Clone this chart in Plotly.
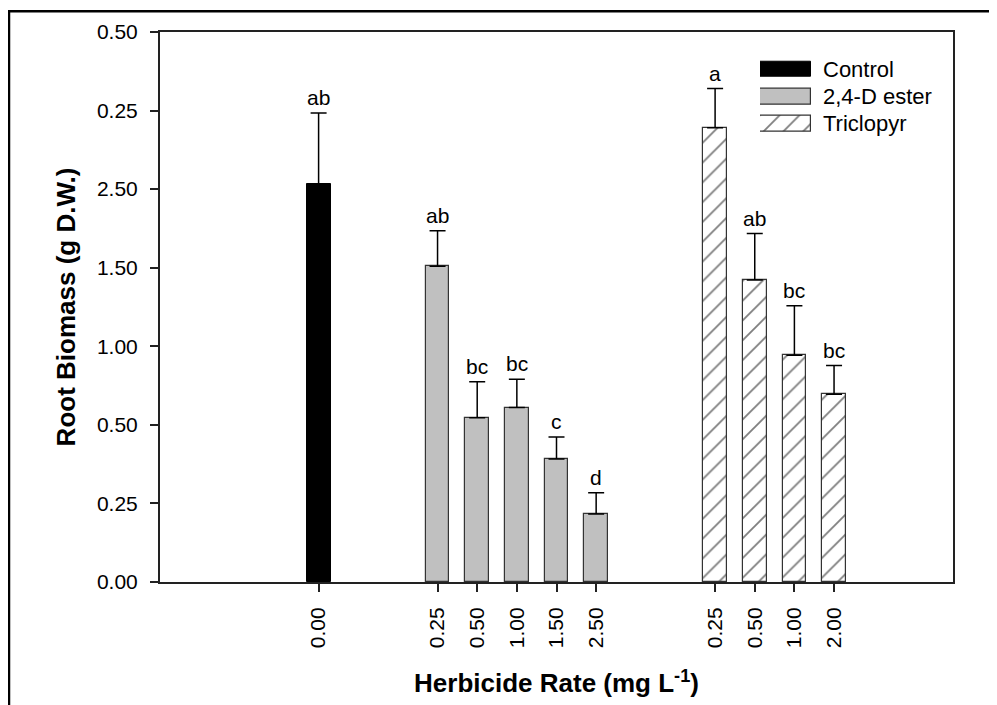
import plotly.graph_objects as go

# ---- data (values read in axis-position units) ----
groups = ["Control", "2,4-D ester", "Triclopyr"]
control_rates = ["0.00"]
ester_rates = ["0.25", "0.50", "1.00", "1.50", "2.50"]
triclopyr_rates = ["0.25", "0.50", "1.00", "2.00"]

control_vals = [5.06]
ester_vals = [4.02, 2.09, 2.22, 1.565, 0.867]
triclopyr_vals = [5.78, 3.845, 2.886, 2.39]

control_err = [0.91]
ester_err = [0.45, 0.46, 0.36, 0.28, 0.27]
triclopyr_err = [0.50, 0.59, 0.63, 0.365]

control_letters = ["ab"]
ester_letters = ["ab", "bc", "bc", "c", "d"]
triclopyr_letters = ["a", "ab", "bc", "bc"]

y_tick_labels = ["0.00", "0.25", "0.50", "1.00", "1.50", "2.50", "0.25", "0.50"]

# ---- layout helpers (page pixel coords; page has an 8px body offset) ----
OFF = 8
W, H = 997 - OFF, 705 - OFF
L, R, T, B = 160, 953, 28, 583          # plot area in page pixels
FONT = "Liberation Sans, Arial, sans-serif"

def px(x):
    return (x - L) / (R - L)

def py(y):
    return (B - y) / (B - T)

rates = [control_rates, ester_rates, triclopyr_rates]
vals = [control_vals, ester_vals, triclopyr_vals]
errs = [control_err, ester_err, triclopyr_err]
letters = [control_letters, ester_letters, triclopyr_letters]

GAP = 3
positions = []
start = 0
for r in rates:
    positions.append([start + i for i in range(len(r))])
    start = positions[-1][-1] + GAP

styles = [
    dict(color="black", line=dict(color="black", width=1)),
    dict(color="#c0c0c0", line=dict(color="#333333", width=1.2)),
    dict(color="white", line=dict(color="#333333", width=1.2),
         pattern=dict(shape="/", fgcolor="black", bgcolor="white", size=14, solidity=0.13)),
]

fig = go.Figure()
for g, xs, v, e, st in zip(groups, positions, vals, errs, styles):
    fig.add_trace(go.Bar(
        x=xs, y=v, name=g, width=0.6, marker=st, showlegend=False,
        error_y=dict(type="data", symmetric=False, array=e, arrayminus=[0] * len(e),
                     color="black", thickness=1.5, width=8),
    ))

annotations = []
for xs, v, e, lt in zip(positions, vals, errs, letters):
    for xx, vv, ee, tt in zip(xs, v, e, lt):
        annotations.append(dict(x=xx, y=vv + ee, xref="x", yref="y", text=tt,
                                showarrow=False, yanchor="bottom", yshift=2,
                                font=dict(family=FONT, size=21, color="black")))

# legend swatches drawn as bars on a small auxiliary axis
for i, (g, st) in enumerate(zip(groups, styles)):
    fig.add_trace(go.Bar(
        x=[1], y=[i], base=0, orientation="h", width=0.57, marker=st,
        xaxis="x2", yaxis="y2", showlegend=False, hoverinfo="skip",
    ))
    annotations.append(dict(x=px(821), y=i, xref="paper", yref="y2", text=g,
                            showarrow=False, xanchor="left", yanchor="middle",
                            font=dict(family=FONT, size=22, color="black")))

tickvals_x = [p for grp in positions for p in grp]
ticktext_x = [r for grp in rates for r in grp]

fig.update_layout(
    width=W, height=H,
    margin=dict(l=L - OFF, r=W - (R - OFF), t=T - OFF, b=H - (B - OFF)),
    paper_bgcolor="white", plot_bgcolor="white",
    font=dict(family=FONT, size=21, color="black"),
    bargap=0,
    xaxis=dict(range=[-4, 16], tickvals=tickvals_x, ticktext=ticktext_x, tickangle=-90,
               showgrid=False, zeroline=False, showline=True, linecolor="#222", linewidth=2,
               mirror=True, ticks="outside", ticklen=8, tickwidth=1.5, tickcolor="#222",
               ticklabelstandoff=7,
               tickfont=dict(family=FONT, size=21),
               title=dict(text="<b>Herbicide Rate (mg L<sup>-1</sup>)</b>",
                          font=dict(family=FONT, size=26), standoff=27)),
    yaxis=dict(range=[0, 7], tickvals=list(range(len(y_tick_labels))), ticktext=y_tick_labels,
               showgrid=False, zeroline=False, showline=True, linecolor="#222", linewidth=2,
               mirror=True, ticks="outside", ticklen=8, tickwidth=1.5, tickcolor="#222",
               ticklabelstandoff=8,
               tickfont=dict(family=FONT, size=21),
               title=dict(text="<b>Root Biomass (g D.W.)</b>",
                          font=dict(family=FONT, size=26), standoff=14)),
    xaxis2=dict(domain=[px(760), px(811)], range=[0, 1], visible=False, anchor="y2"),
    yaxis2=dict(domain=[py(134.45), py(51.95)], range=[2.5, -0.5], visible=False, anchor="x2"),
    annotations=annotations,
    shapes=[
        dict(type="line", xref="paper", yref="paper", x0=px(9), x1=px(9), y0=py(7), y1=py(720),
             line=dict(color="black", width=2.5)),
        dict(type="line", xref="paper", yref="paper", x0=px(8), x1=px(1010), y0=py(7), y1=py(7),
             line=dict(color="black", width=2.5)),
    ],
)

fig.write_html("out.html")
